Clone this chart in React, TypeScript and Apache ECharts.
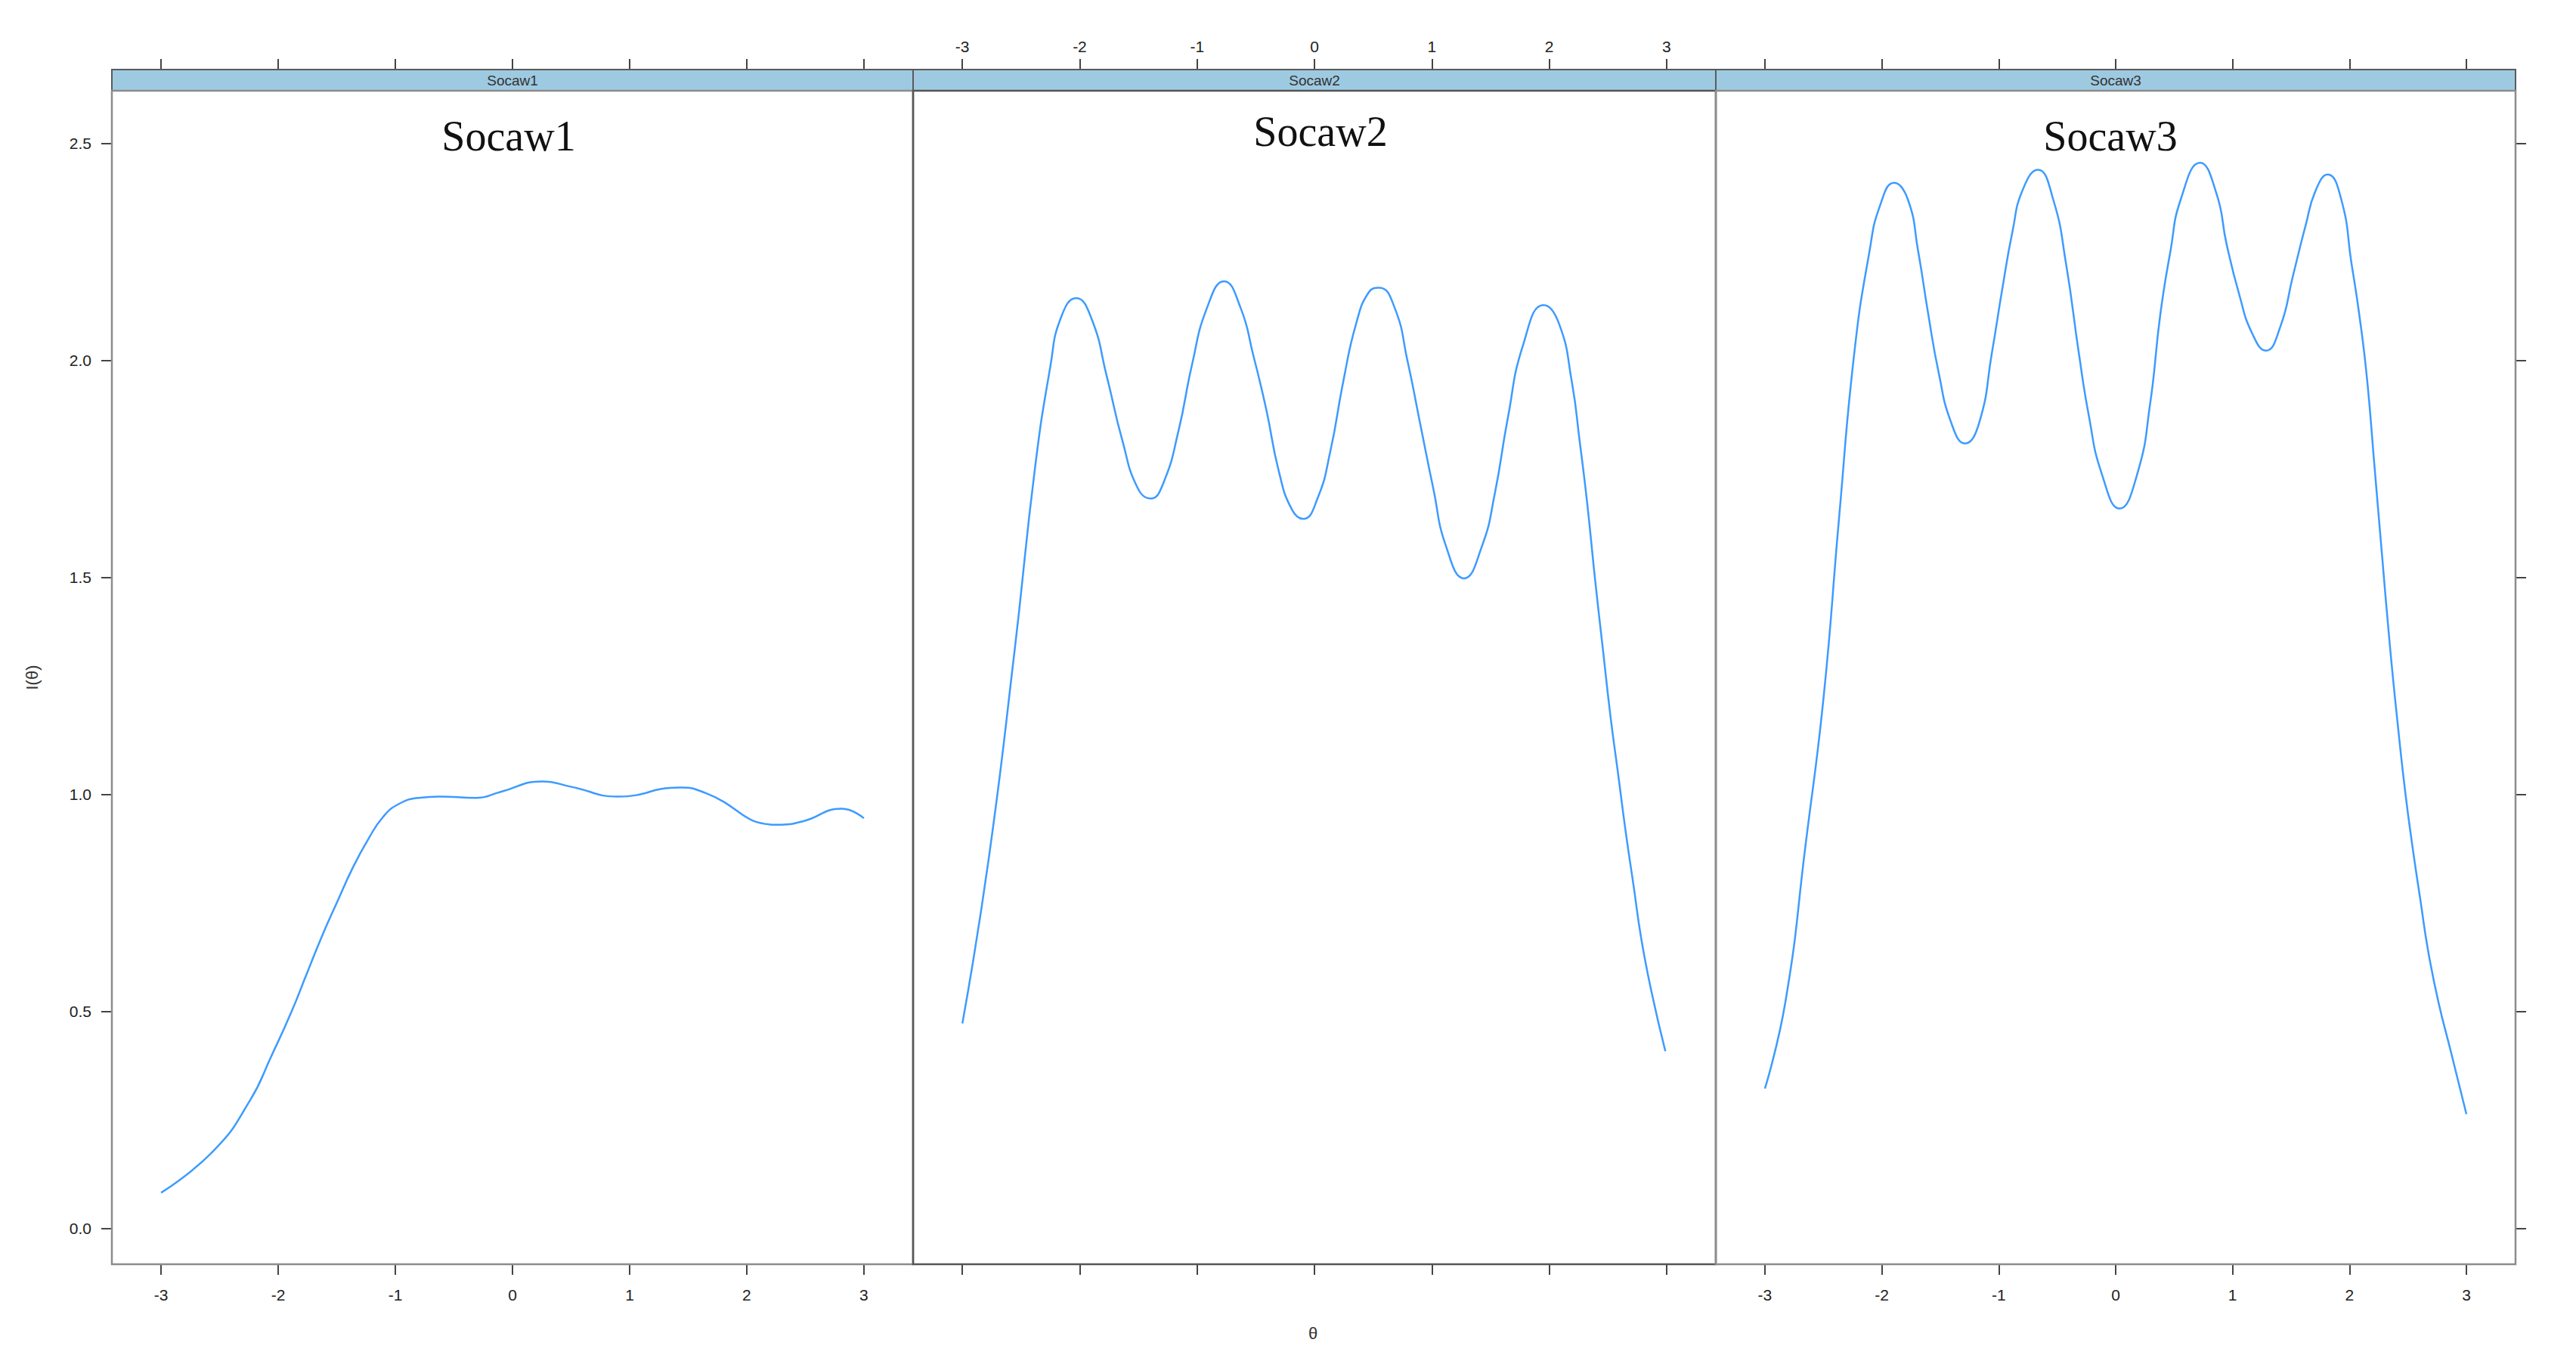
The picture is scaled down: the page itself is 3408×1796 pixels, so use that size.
import React, { useEffect, useRef } from "react";
import * as echarts from "echarts";

const panelNames = ["Socaw1", "Socaw2", "Socaw3"];
const xTicks = [-3, -2, -1, 0, 1, 2, 3];
const yTicks = [0, 0.5, 1, 1.5, 2, 2.5];

const theta1 = [-3.0, -2.55, -2.24, -2.06, -1.89, -1.76, -1.63, -1.5, -1.365, -1.235, -1.105, -0.97, -0.8, -0.62, -0.315, -0.1, 0.25, 0.51, 0.9, 1.43, 1.65, 2.26, 2.48, 2.81, 3.0];
const info1 = [0.082, 0.179, 0.295, 0.396, 0.497, 0.584, 0.671, 0.75, 0.83, 0.895, 0.948, 0.978, 0.992, 0.995, 0.992, 1.006, 1.03, 1.017, 0.995, 1.016, 1.003, 0.93, 0.938, 0.967, 0.945];

const theta2 = [-3.0, -2.776, -2.557, -2.38, -2.25, -2.163, -2.03, -1.9, -1.769, -1.637, -1.506, -1.396, -1.287, -1.156, -1.046, -0.915, -0.77, -0.63, -0.521, -0.412, -0.302, -0.193, -0.096, 0.026, 0.136, 0.245, 0.355, 0.464, 0.551, 0.683, 0.793, 0.902, 1.012, 1.121, 1.274, 1.427, 1.537, 1.646, 1.778, 1.953, 2.084, 2.193, 2.259, 2.325, 2.39, 2.456, 2.522, 2.588, 2.653, 2.719, 2.785, 2.872, 2.99];
const info2 = [0.472, 0.851, 1.327, 1.755, 1.987, 2.097, 2.144, 2.097, 1.963, 1.816, 1.706, 1.682, 1.718, 1.841, 1.987, 2.122, 2.183, 2.122, 2.012, 1.889, 1.743, 1.657, 1.635, 1.682, 1.792, 1.951, 2.085, 2.158, 2.168, 2.122, 1.999, 1.853, 1.706, 1.572, 1.498, 1.572, 1.694, 1.865, 2.036, 2.128, 2.085, 1.951, 1.816, 1.669, 1.498, 1.339, 1.181, 1.046, 0.912, 0.79, 0.667, 0.545, 0.408];

const theta3 = [-3.0, -2.824, -2.65, -2.497, -2.366, -2.235, -2.105, -2.017, -1.895, -1.777, -1.69, -1.603, -1.516, -1.407, -1.289, -1.167, -1.058, -0.97, -0.883, -0.796, -0.665, -0.534, -0.425, -0.316, -0.229, -0.12, 0.033, 0.186, 0.295, 0.382, 0.469, 0.556, 0.722, 0.862, 0.949, 1.058, 1.167, 1.285, 1.407, 1.516, 1.625, 1.712, 1.813, 1.93, 2.017, 2.083, 2.149, 2.214, 2.279, 2.345, 2.41, 2.476, 2.541, 2.606, 2.672, 2.759, 2.868, 3.0];
const info3 = [0.322, 0.523, 0.889, 1.227, 1.637, 2.019, 2.253, 2.356, 2.41, 2.371, 2.253, 2.107, 1.975, 1.857, 1.809, 1.857, 2.019, 2.165, 2.297, 2.393, 2.44, 2.371, 2.224, 2.019, 1.872, 1.74, 1.659, 1.74, 1.901, 2.107, 2.253, 2.371, 2.456, 2.385, 2.268, 2.151, 2.063, 2.023, 2.077, 2.195, 2.312, 2.393, 2.429, 2.371, 2.224, 2.107, 1.96, 1.755, 1.549, 1.344, 1.168, 1.007, 0.875, 0.757, 0.64, 0.523, 0.406, 0.263];

const thetas = [theta1, theta2, theta3];
const infos = [info1, info2, info3];

const X_MIN = -3.42;
const X_MAX = 3.42;
const Y_MIN = -0.083;
const Y_MAX = 2.622;

const panelLeft = [148, 1208, 2270];
const panelWidth = [1060, 1062, 1058];
const PANEL_TOP = 120;
const PANEL_BOTTOM = 1672;
const STRIP_TOP = 92;
const titlePos = [
  [673, 180],
  [1747, 174],
  [2792, 180],
];

const LINE_COLOR = "#3d9bff";
const TICK_COLOR = "#444";
const LABEL_FONT = { fontFamily: "Liberation Sans", fontSize: 21, color: "#222" };

export default function App() {
  const ref = useRef<HTMLDivElement>(null);

  useEffect(() => {
    if (!ref.current) return;
    const chart = echarts.init(ref.current, null, { renderer: "svg" });

    const grid = panelLeft.map((l, i) => ({
      left: l,
      top: PANEL_TOP,
      width: panelWidth[i],
      height: PANEL_BOTTOM - PANEL_TOP,
      containLabel: false,
    }));

    const xAxis: any[] = [];
    panelLeft.forEach((_, i) => {
      const bottomLabels = i !== 1;
      xAxis.push({
        type: "value",
        gridIndex: i,
        position: "bottom",
        min: X_MIN,
        max: X_MAX,
        axisLine: { show: false, onZero: false },
        splitLine: { show: false },
        axisTick: {
          show: true,
          length: 14,
          customValues: xTicks,
          lineStyle: { color: TICK_COLOR, width: 2 },
        },
        axisLabel: {
          show: bottomLabels,
          customValues: xTicks,
          margin: 30,
          formatter: (v: number) => String(v),
          ...LABEL_FONT,
        },
      });
      xAxis.push({
        type: "value",
        gridIndex: i,
        position: "top",
        offset: PANEL_TOP - STRIP_TOP,
        min: X_MIN,
        max: X_MAX,
        axisLine: { show: false, onZero: false },
        splitLine: { show: false },
        axisTick: {
          show: true,
          length: 14,
          customValues: xTicks,
          lineStyle: { color: TICK_COLOR, width: 2 },
        },
        axisLabel: {
          show: !bottomLabels,
          customValues: xTicks,
          margin: 20,
          formatter: (v: number) => String(v),
          ...LABEL_FONT,
        },
      });
    });

    const yAxis: any[] = panelLeft.map((_, i) => ({
      type: "value",
      gridIndex: i,
      position: i === 2 ? "right" : "left",
      min: Y_MIN,
      max: Y_MAX,
      axisLine: { show: false, onZero: false },
      splitLine: { show: false },
      axisTick: {
        show: i !== 1,
        length: 14,
        customValues: yTicks,
        lineStyle: { color: TICK_COLOR, width: 2 },
      },
      axisLabel: {
        show: i === 0,
        customValues: yTicks,
        margin: 27,
        formatter: (v: number) => v.toFixed(1),
        ...LABEL_FONT,
      },
    }));

    const series = thetas.map((th, i) => ({
      type: "line",
      name: panelNames[i],
      xAxisIndex: i * 2,
      yAxisIndex: i,
      data: th.map((t, k) => [t, infos[i][k]]),
      showSymbol: false,
      symbol: "none",
      smooth: 0.5,
      lineStyle: { color: LINE_COLOR, width: 2.5 },
      clip: true,
      silent: true,
    }));

    const graphic: any[] = [];
    panelLeft.forEach((l, i) => {
      const w = panelWidth[i];
      graphic.push({
        type: "rect",
        z: 10,
        shape: { x: l, y: STRIP_TOP, width: w, height: PANEL_TOP - STRIP_TOP },
        style: { fill: "#9ecae1", stroke: "#5a5a5a", lineWidth: 2 },
      });
      graphic.push({
        type: "text",
        z: 11,
        x: l + w / 2,
        y: (STRIP_TOP + PANEL_TOP) / 2,
        style: {
          text: panelNames[i],
          fontFamily: "Liberation Sans",
          fontSize: 19,
          fill: "#333",
          align: "center",
          verticalAlign: "middle",
        },
      });
      graphic.push({
        type: "rect",
        z: 10,
        shape: { x: l, y: PANEL_TOP, width: w, height: PANEL_BOTTOM - PANEL_TOP },
        style: { fill: "none", stroke: i === 1 ? "#555" : "#8c8c8c", lineWidth: 2.5 },
      });
      graphic.push({
        type: "text",
        z: 11,
        x: titlePos[i][0],
        y: titlePos[i][1],
        style: {
          text: panelNames[i],
          fontFamily: "Liberation Serif",
          fontSize: 56,
          fill: "#111",
          align: "center",
          verticalAlign: "middle",
        },
      });
    });
    graphic.push({
      type: "text",
      z: 11,
      x: 42,
      y: (PANEL_TOP + PANEL_BOTTOM) / 2,
      rotation: Math.PI / 2,
      style: {
        text: "I(θ)",
        fontFamily: "Liberation Sans",
        fontSize: 22,
        fill: "#333",
        align: "center",
        verticalAlign: "middle",
      },
    });
    graphic.push({
      type: "text",
      z: 11,
      x: 1737,
      y: 1763,
      style: {
        text: "θ",
        fontFamily: "Liberation Sans",
        fontSize: 22,
        fill: "#333",
        align: "center",
        verticalAlign: "middle",
      },
    });

    chart.setOption({
      animation: false,
      backgroundColor: "#ffffff",
      grid,
      xAxis,
      yAxis,
      series,
      graphic,
    });

    return () => {
      chart.dispose();
    };
  }, []);

  return (
    <div
      ref={ref}
      style={{ position: "absolute", left: 0, top: 0, width: 3408, height: 1796 }}
    />
  );
}
